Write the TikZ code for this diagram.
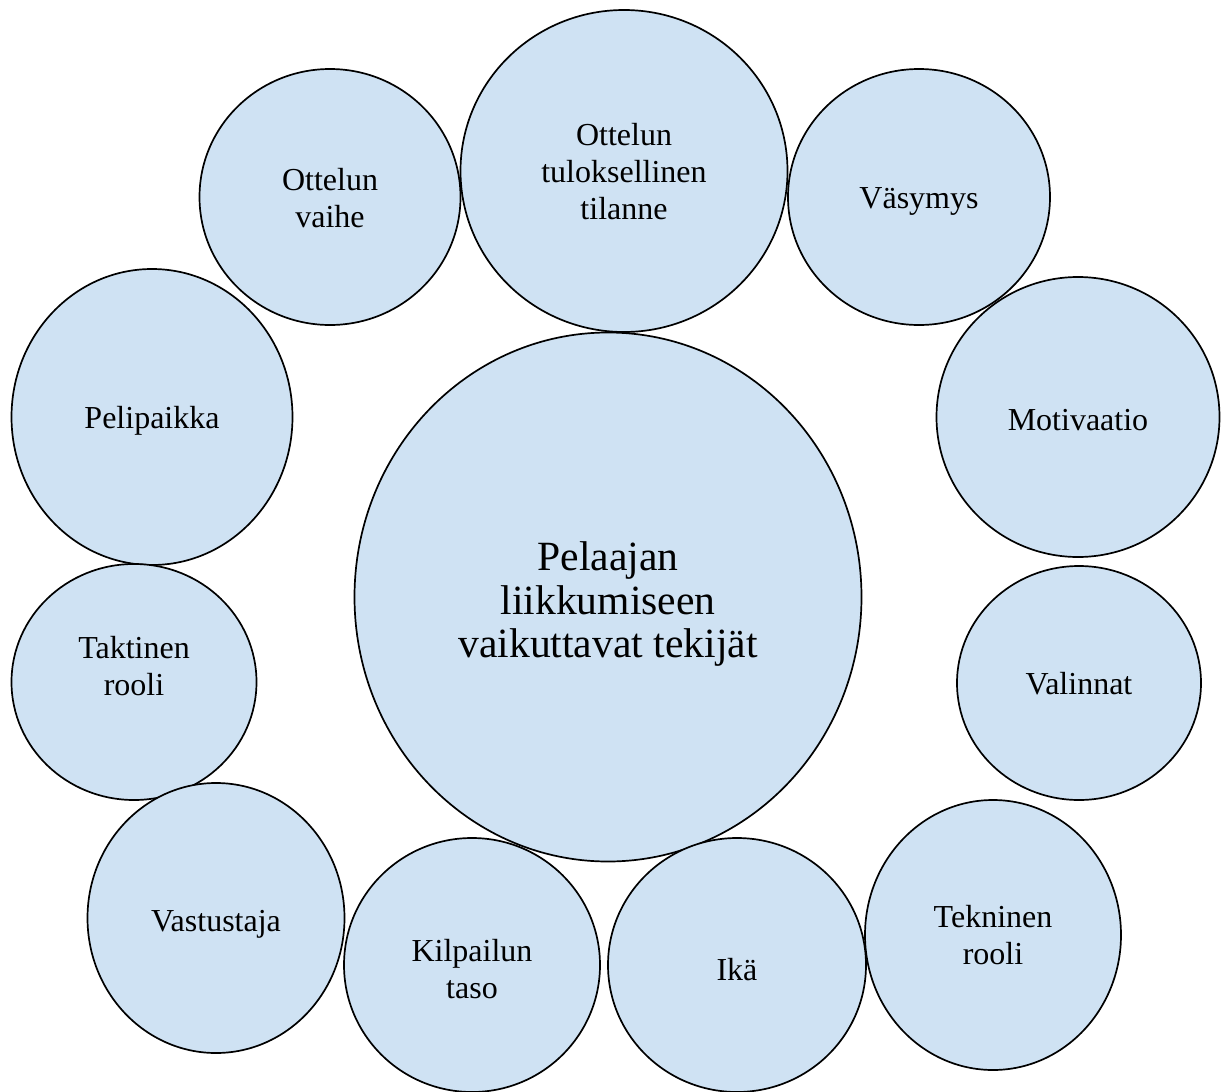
\documentclass[tikz,border=0pt]{standalone}
\usepackage{fontspec}
\setmainfont{Liberation Serif}
\usetikzlibrary{shapes.geometric}
\definecolor{bubblefill}{RGB}{207,226,243}
\tikzset{
  bubble/.style={ellipse, draw=black, line width=0.85pt, fill=bubblefill,
    inner sep=0pt, outer sep=0pt},
  txt/.style={align=center, inner sep=0pt, font=\fontsize{16pt}{18.5pt}\selectfont},
  bigtxt/.style={txt, font=\fontsize{20.8pt}{21.8pt}\selectfont}
}
\begin{document}
\begin{tikzpicture}[x=0.5pt,y=-0.5pt]
\useasboundingbox (0,0) rectangle (1221,1092);
\node[bubble, minimum width=253.5pt, minimum height=264.5pt] (center) at (608,597) {};
\node[bubble, minimum width=163.5pt, minimum height=161pt] (tulos) at (624,171) {};
\node[bubble, minimum width=130.5pt, minimum height=128pt] (vaihe) at (330,197) {};
\node[bubble, minimum width=131pt, minimum height=128pt] (vasymys) at (919,197) {};
\node[bubble, minimum width=140.5pt, minimum height=148pt] (pelipaikka) at (152,417) {};
\node[bubble, minimum width=141.5pt, minimum height=140pt] (motivaatio) at (1078,417) {};
\node[bubble, minimum width=122.5pt, minimum height=118pt] (taktinen) at (134,682) {};
\node[bubble, minimum width=122pt, minimum height=117pt] (valinnat) at (1079,683) {};
\node[bubble, minimum width=128.5pt, minimum height=135pt] (vastustaja) at (216,918) {};
\node[bubble, minimum width=128pt, minimum height=127pt] (kilpailu) at (472,965) {};
\node[bubble, minimum width=129pt, minimum height=127pt] (ika) at (737,965) {};
\node[bubble, minimum width=128pt, minimum height=135pt] (tekninen) at (993,935) {};

\node[bigtxt] (tcenter) at (608,604) {Pelaajan\\liikkumiseen\\vaikuttavat tekijät};
\node[txt] (ttulos) at (624,172) {Ottelun\\tuloksellinen\\tilanne};
\node[txt] (tvaihe) at (330,198) {Ottelun\\vaihe};
\node[txt] (tvasymys) at (919,201) {Väsymys};
\node[txt] (tpelipaikka) at (152,421) {Pelipaikka};
\node[txt] (tmotivaatio) at (1078,420) {Motivaatio};
\node[txt] (ttaktinen) at (134,666) {Taktinen\\rooli};
\node[txt] (tvalinnat) at (1079,684) {Valinnat};
\node[txt] (tvastustaja) at (216,924) {Vastustaja};
\node[txt] (tkilpailu) at (472,969) {Kilpailun\\taso};
\node[txt] (tika) at (737,970) {Ikä};
\node[txt] (ttekninen) at (993,935) {Tekninen\\rooli};
\end{tikzpicture}
\end{document}
